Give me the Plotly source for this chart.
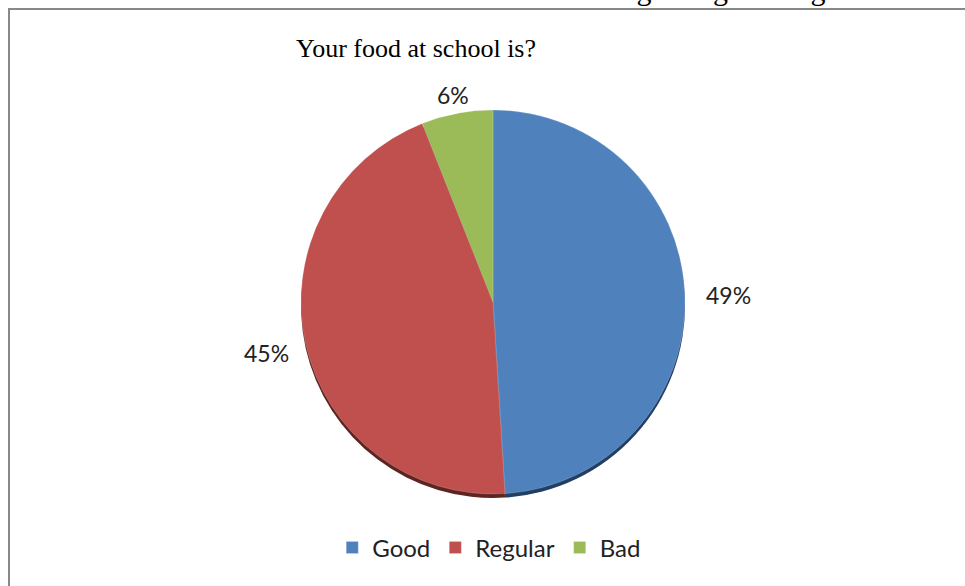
import math
import plotly.graph_objects as go

categories = ["Good", "Regular", "Bad"]
values = [49, 45, 6]
colors = ["#4F81BD", "#C0504D", "#9BBB59"]
shade_colors = ["#223F63", "#5E2422", "#4E642B"]
title_text = "Your food at school is?"
caption_text = "Chart 4 – Evaluation of the students regarding feeding"

W, H = 965, 586
cx, cy, R = 493, 302, 192


def dom(yoff):
    return dict(x=[(cx - R) / W, (cx + R) / W],
                y=[1 - (cy + yoff + R) / H, 1 - (cy + yoff - R) / H])


fig = go.Figure()
# darker rim (3D edge) drawn behind the face
fig.add_trace(go.Pie(
    labels=categories, values=values, sort=False, direction="clockwise", rotation=0,
    marker=dict(colors=shade_colors, line=dict(width=0)),
    textinfo="none", hoverinfo="skip", showlegend=False, domain=dom(4),
))
fig.add_trace(go.Pie(
    labels=categories, values=values, sort=False, direction="clockwise", rotation=0,
    marker=dict(colors=colors, line=dict(color="rgba(255,255,255,0.35)", width=0.5)),
    textinfo="none", hoverinfo="label+percent", domain=dom(0),
))

# percentage labels placed outside at each slice's mid-angle
total = sum(values)
cum = 0
label_r = [1.225, 1.21, 1.10]
for v, lr in zip(values, label_r):
    mid = (cum + v / 2) / total * 2 * math.pi
    cum += v
    px = cx + R * lr * math.sin(mid)
    py = cy - R * lr * math.cos(mid)
    fig.add_annotation(x=px / W, y=1 - py / H, xref="paper", yref="paper",
                       xanchor="center", yanchor="middle",
                       text=f"{round(v / total * 100)}%", showarrow=False,
                       font=dict(family="Lato, Noto Sans, sans-serif", size=23, color="#222"))

fig.add_annotation(x=416 / W, y=1 - 48 / H, xref="paper", yref="paper",
                   xanchor="center", yanchor="middle", text=title_text,
                   showarrow=False, font=dict(family="Liberation Serif, serif", size=26, color="#000"))
fig.add_annotation(x=500 / W, y=1 - 8 / H, xref="paper", yref="paper", xanchor="center", yanchor="bottom",
                   text=caption_text, showarrow=False,
                   font=dict(family="Liberation Serif, serif", size=30, color="#000"))

fig.add_shape(type="rect", xref="paper", yref="paper", x0=9 / W, y0=-0.05, x1=1.05, y1=1 - 9 / H,
              line=dict(color="#888888", width=2))

fig.update_layout(
    width=W, height=H, margin=dict(l=0, r=0, t=0, b=0),
    paper_bgcolor="white", plot_bgcolor="white",
    showlegend=True,
    legend=dict(orientation="h", x=0.507, xanchor="center", y=1 - 548 / H, yanchor="middle",
                font=dict(family="Lato, Noto Sans, sans-serif", size=24, color="#222"),
                itemwidth=30, traceorder="normal"),
)

fig.write_html("out.html")
